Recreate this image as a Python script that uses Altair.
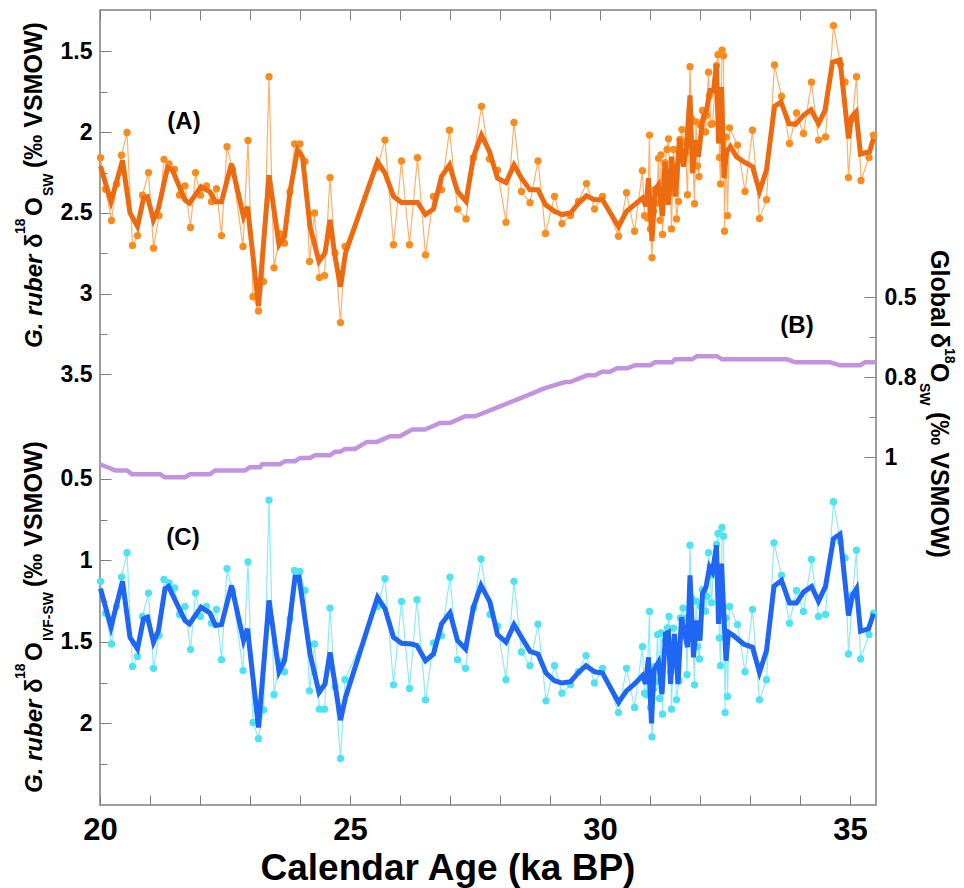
import altair as alt
import pandas as pd

# ---------------- data ----------------
A_AGE = [20.01, 20.11, 20.23, 20.33, 20.43, 20.54, 20.65, 20.75, 20.85, 20.97,
         21.07, 21.18, 21.28, 21.38, 21.49, 21.59, 21.70, 21.81, 21.91, 22.01,
         22.13, 22.23, 22.33, 22.43, 22.54, 22.65, 22.86, 22.96, 23.06, 23.17,
         23.27, 23.38, 23.48, 23.60, 23.69, 23.80, 23.89, 24.00, 24.10, 24.19,
         24.29, 24.39, 24.49, 24.60, 24.70, 24.81, 24.90, 25.55, 25.70, 25.87,
         26.03, 26.19, 26.35, 26.51, 26.67, 26.83, 26.99, 27.15, 27.32, 27.47,
         27.63, 27.79, 27.95, 28.12, 28.28, 28.43, 28.60, 28.76, 28.91, 29.09,
         29.24, 29.41, 29.57, 29.73, 29.89, 30.05, 30.37, 30.53, 30.69, 30.85,
         30.89, 30.95, 30.99, 31.01, 31.04, 31.07, 31.11, 31.13, 31.17, 31.20,
         31.22, 31.25, 31.30, 31.34, 31.37, 31.41, 31.43, 31.47, 31.49, 31.53,
         31.57, 31.60, 31.64, 31.67, 31.71, 31.75, 31.77, 31.80, 31.83, 31.85,
         31.89, 31.92, 31.95, 31.98, 32.01, 32.05, 32.09, 32.11, 32.13, 32.17,
         32.19, 32.22, 32.25, 32.30, 32.33, 32.36, 32.39, 32.41, 32.44, 32.47,
         32.49, 32.52, 32.55, 32.59, 32.75, 32.90, 33.05, 33.19, 33.33, 33.49,
         33.63, 33.79, 33.93, 34.07, 34.23, 34.37, 34.51, 34.67, 34.81, 34.90,
         34.97, 35.05, 35.13, 35.22, 35.38, 35.47]
A_VAL = [2.158, 2.353, 2.547, 2.322, 2.143, 2.002, 2.701, 2.640, 2.390, 2.250,
         2.718, 2.517, 2.168, 2.197, 2.230, 2.390, 2.332, 2.590, 2.250, 2.390,
         2.332, 2.430, 2.350, 2.640, 2.090, 2.230, 2.707, 2.051, 3.019, 3.107,
         2.925, 1.656, 2.840, 2.629, 2.687, 2.369, 2.072, 2.072, 2.182, 2.800,
         2.500, 2.900, 2.888, 2.281, 2.748, 3.179, 2.707, 2.217, 2.049, 2.697,
         2.178, 2.697, 2.158, 2.760, 2.398, 2.357, 1.988, 2.476, 2.537, 2.158,
         1.840, 2.166, 2.236, 2.558, 1.940, 2.367, 2.437, 2.178, 2.627, 2.398,
         2.566, 2.515, 2.428, 2.318, 2.476, 2.398, 2.644, 2.375, 2.613, 2.238,
         2.517, 2.531, 2.018, 2.599, 2.777, 2.490, 2.353, 2.439, 2.162, 2.545,
         2.141, 2.633, 2.189, 2.107, 2.041, 2.373, 2.599, 2.107, 2.209, 2.537,
         2.428, 2.045, 1.984, 2.059, 2.127, 2.387, 2.029, 1.594, 1.916, 2.090,
         2.443, 1.936, 2.209, 2.275, 1.957, 1.865, 1.902, 1.998, 1.896, 1.629,
         1.772, 1.951, 1.947, 1.742, 1.588, 1.520, 2.156, 2.320, 1.492, 1.526,
         2.613, 2.029, 2.517, 1.973, 2.080, 2.367, 1.988, 2.535, 2.418, 1.584,
         1.779, 2.070, 1.881, 2.008, 1.690, 2.049, 2.029, 1.340, 1.582, 1.690,
         2.281, 1.916, 1.656, 2.299, 2.156, 2.018]

A_SM_AGE = [20.01, 20.22, 20.45, 20.60, 20.75, 20.87, 20.95, 21.07, 21.17, 21.35,
            21.45, 21.70, 21.79, 22.02, 22.20, 22.31, 22.43, 22.63, 22.87, 22.95,
            23.17, 23.38, 23.58, 23.69, 23.80, 23.95, 24.05, 24.20, 24.38, 24.50,
            24.60, 24.70, 24.81, 24.91, 25.55, 25.70, 25.87, 26.03, 26.35, 26.51,
            26.67, 26.83, 26.99, 27.15, 27.32, 27.47, 27.63, 27.79, 27.95, 28.12,
            28.28, 28.43, 28.60, 28.76, 28.91, 29.09, 29.24, 29.41, 29.57, 29.73,
            29.89, 30.05, 30.37, 30.53, 30.85, 30.92, 30.97, 31.04, 31.10, 31.17,
            31.25, 31.30, 31.37, 31.43, 31.51, 31.59, 31.67, 31.73, 31.80, 31.85,
            31.92, 31.97, 32.05, 32.13, 32.20, 32.27, 32.33, 32.37, 32.43, 32.48,
            32.53, 32.61, 32.73, 32.87, 33.05, 33.19, 33.33, 33.49, 33.62, 33.78,
            33.91, 34.07, 34.22, 34.37, 34.50, 34.65, 34.80, 34.97, 35.03, 35.12,
            35.21, 35.39, 35.47]
A_SM_VAL = [2.211, 2.430, 2.174, 2.500, 2.584, 2.410, 2.400, 2.543, 2.470, 2.219,
            2.236, 2.420, 2.440, 2.338, 2.369, 2.430, 2.430, 2.195, 2.523, 2.461,
            3.076, 2.267, 2.697, 2.646, 2.369, 2.109, 2.154, 2.584, 2.800, 2.748,
            2.543, 2.769, 2.957, 2.748, 2.182, 2.254, 2.398, 2.435, 2.435, 2.510,
            2.476, 2.275, 2.203, 2.367, 2.428, 2.152, 2.018, 2.121, 2.285, 2.312,
            2.203, 2.285, 2.357, 2.357, 2.449, 2.490, 2.510, 2.500, 2.439, 2.394,
            2.418, 2.418, 2.585, 2.490, 2.408, 2.459, 2.285, 2.674, 2.357, 2.326,
            2.520, 2.182, 2.449, 2.152, 2.398, 2.039, 2.213, 2.090, 1.772, 2.254,
            2.049, 2.152, 1.926, 1.865, 1.742, 1.742, 1.578, 2.070, 1.721, 2.285,
            2.121, 2.090, 2.152, 2.182, 2.213, 2.367, 2.234, 1.840, 1.813, 1.947,
            1.951, 1.895, 1.861, 1.947, 1.865, 1.567, 1.553, 2.039, 1.906, 1.875,
            2.135, 2.121, 2.039]

B_AGE = [20.00, 20.15, 20.30, 20.54, 20.64, 21.20, 21.30, 21.70, 21.80, 22.20,
         22.30, 22.90, 23.00, 23.20, 23.24, 23.60, 23.70, 23.90, 24.00, 24.20,
         24.30, 24.60, 24.70, 24.80, 24.90, 25.10, 25.34, 25.54, 25.80, 26.00,
         26.24, 26.50, 26.80, 27.00, 27.30, 27.50, 27.90, 28.40, 28.90, 29.30,
         29.40, 29.74, 29.90, 30.04, 30.20, 30.34, 30.54, 30.70, 31.00, 31.10,
         31.44, 31.50, 31.84, 31.94, 32.34, 32.44, 33.74, 33.90, 34.60, 34.80,
         35.20, 35.30, 35.52]
B_VAL = [1.022, 1.031, 1.041, 1.041, 1.053, 1.053, 1.062, 1.062, 1.053, 1.053,
         1.041, 1.041, 1.031, 1.031, 1.022, 1.022, 1.012, 1.012, 1.002, 1.002,
         0.994, 0.994, 0.983, 0.983, 0.974, 0.974, 0.952, 0.952, 0.934, 0.934,
         0.913, 0.913, 0.893, 0.893, 0.872, 0.872, 0.847, 0.816, 0.784, 0.765,
         0.765, 0.744, 0.744, 0.733, 0.733, 0.722, 0.722, 0.7125, 0.7125, 0.703,
         0.703, 0.694, 0.694, 0.684, 0.684, 0.694, 0.694, 0.703, 0.703, 0.7125,
         0.7125, 0.703, 0.703]

C_AGE = [20.01, 20.11, 20.23, 20.33, 20.43, 20.54, 20.65, 20.75, 20.85, 20.97,
         21.07, 21.18, 21.28, 21.38, 21.49, 21.59, 21.70, 21.81, 21.91, 22.01,
         22.13, 22.23, 22.33, 22.43, 22.54, 22.65, 22.86, 22.96, 23.06, 23.17,
         23.27, 23.38, 23.48, 23.59, 23.69, 23.80, 23.89, 24.00, 24.10, 24.19,
         24.29, 24.39, 24.49, 24.60, 24.70, 24.81, 24.90, 25.55, 25.70, 25.87,
         26.03, 26.19, 26.34, 26.51, 26.67, 26.83, 27.00, 27.15, 27.31, 27.47,
         27.62, 27.80, 27.95, 28.12, 28.28, 28.43, 28.60, 28.76, 28.92, 29.09,
         29.24, 29.41, 29.57, 29.72, 29.89, 30.05, 30.37, 30.53, 30.69, 30.85,
         30.89, 30.93, 30.99, 31.01, 31.04, 31.07, 31.10, 31.12, 31.15, 31.19,
         31.22, 31.25, 31.30, 31.35, 31.38, 31.41, 31.43, 31.47, 31.49, 31.53,
         31.58, 31.61, 31.66, 31.68, 31.72, 31.74, 31.77, 31.80, 31.83, 31.85,
         31.89, 31.92, 31.95, 31.99, 32.01, 32.05, 32.09, 32.11, 32.14, 32.17,
         32.20, 32.23, 32.27, 32.33, 32.36, 32.39, 32.41, 32.44, 32.47, 32.50,
         32.52, 32.55, 32.59, 32.75, 32.90, 33.05, 33.19, 33.33, 33.48, 33.63,
         33.79, 33.93, 34.07, 34.23, 34.37, 34.51, 34.67, 34.81, 34.90, 34.97,
         35.05, 35.13, 35.21, 35.38, 35.47]
C_VAL = [1.129, 1.324, 1.513, 1.283, 1.103, 0.953, 1.650, 1.590, 1.344, 1.201,
         1.662, 1.461, 1.117, 1.139, 1.170, 1.332, 1.283, 1.547, 1.201, 1.344,
         1.283, 1.385, 1.301, 1.609, 1.051, 1.189, 1.676, 1.010, 1.994, 2.093,
         1.916, 0.631, 1.824, 1.621, 1.683, 1.359, 1.062, 1.068, 1.185, 1.800,
         1.513, 1.912, 1.912, 1.293, 1.775, 2.214, 1.732, 1.283, 1.113, 1.763,
         1.252, 1.785, 1.242, 1.855, 1.506, 1.463, 1.103, 1.609, 1.662, 1.293,
         0.992, 1.332, 1.404, 1.732, 1.129, 1.562, 1.646, 1.392, 1.861, 1.646,
         1.814, 1.763, 1.683, 1.584, 1.752, 1.662, 1.933, 1.662, 1.902, 1.529,
         1.814, 1.824, 1.314, 1.902, 2.082, 1.789, 1.650, 1.744, 1.455, 1.847,
         1.445, 1.943, 1.492, 1.414, 1.344, 1.683, 1.912, 1.416, 1.523, 1.855,
         1.738, 1.353, 1.293, 1.359, 1.445, 1.701, 1.344, 0.908, 1.232, 1.414,
         1.763, 1.250, 1.529, 1.605, 1.283, 1.180, 1.215, 1.312, 1.221, 0.953,
         1.092, 1.260, 1.057, 0.902, 0.836, 1.476, 1.646, 0.799, 0.852, 1.933,
         1.353, 1.834, 1.283, 1.394, 1.683, 1.301, 1.855, 1.732, 0.893, 1.092,
         1.385, 1.185, 1.314, 0.994, 1.344, 1.332, 0.641, 0.887, 0.986, 1.574,
         1.211, 0.938, 1.605, 1.455, 1.324]

C_SM_AGE = [20.01, 20.22, 20.45, 20.60, 20.75, 20.87, 20.95, 21.07, 21.17, 21.30,
            21.37, 21.70, 21.79, 22.02, 22.20, 22.31, 22.43, 22.63, 22.87, 22.95,
            23.17, 23.38, 23.58, 23.69, 23.80, 23.90, 23.98, 24.20, 24.38, 24.50,
            24.60, 24.70, 24.81, 24.91, 25.55, 25.70, 25.87, 26.03, 26.23, 26.34,
            26.51, 26.67, 26.83, 27.00, 27.15, 27.31, 27.47, 27.62, 27.80, 27.95,
            28.12, 28.28, 28.43, 28.60, 28.76, 28.92, 29.09, 29.24, 29.41, 29.57,
            29.72, 29.89, 30.05, 30.37, 30.53, 30.69, 30.85, 30.91, 30.97, 31.03,
            31.08, 31.17, 31.24, 31.31, 31.37, 31.41, 31.49, 31.56, 31.63, 31.71,
            31.75, 31.80, 31.87, 31.93, 32.00, 32.05, 32.12, 32.19, 32.25, 32.33,
            32.37, 32.43, 32.52, 32.57, 32.67, 32.87, 33.05, 33.19, 33.33, 33.48,
            33.63, 33.79, 33.93, 34.07, 34.23, 34.37, 34.51, 34.67, 34.80, 34.97,
            35.05, 35.13, 35.21, 35.37, 35.47]
C_SM_VAL = [1.174, 1.410, 1.129, 1.472, 1.543, 1.359, 1.349, 1.502, 1.430, 1.174,
            1.160, 1.369, 1.390, 1.287, 1.324, 1.400, 1.394, 1.154, 1.492, 1.420,
            2.025, 1.246, 1.683, 1.615, 1.359, 1.103, 1.103, 1.574, 1.810, 1.758,
            1.564, 1.758, 1.980, 1.840, 1.226, 1.297, 1.472, 1.508, 1.513, 1.523,
            1.615, 1.574, 1.390, 1.322, 1.492, 1.543, 1.287, 1.154, 1.256, 1.455,
            1.502, 1.394, 1.472, 1.558, 1.574, 1.691, 1.738, 1.752, 1.744, 1.687,
            1.646, 1.683, 1.691, 1.871, 1.800, 1.758, 1.707, 1.758, 1.595, 2.000,
            1.672, 1.625, 1.820, 1.451, 1.441, 1.758, 1.451, 1.758, 1.349, 1.472,
            1.533, 1.092, 1.595, 1.369, 1.492, 1.205, 1.164, 1.041, 1.072, 0.908,
            1.390, 1.020, 1.615, 1.441, 1.461, 1.513, 1.533, 1.687, 1.554, 1.160,
            1.123, 1.262, 1.262, 1.195, 1.160, 1.250, 1.160, 0.867, 0.840, 1.338,
            1.215, 1.174, 1.435, 1.420, 1.328]

X_TICKS = list(range(20, 36))
A_MAJOR = [1.5, 2, 2.5, 3, 3.5]
A_MINOR = [1.75, 2.25, 2.75, 3.25]
B_MAJOR = [0.5, 0.75, 1.0]
B_MINOR = [0.625, 0.875]
C_MAJOR = [0.5, 1, 1.5, 2]
C_MINOR = [0.75, 1.25, 1.75, 2.25]

# ---------------- styling ----------------
FONT = "Liberation Sans"
GRAY = "#7f7f7f"
OX, OY = 100, 10          # plot origin on the page
W, H = 776, 795
DOT = 54

dfA = pd.DataFrame({"age": A_AGE, "v": A_VAL})
dfAs = pd.DataFrame({"age": A_SM_AGE, "v": A_SM_VAL})
dfB = pd.DataFrame({"age": B_AGE, "v": B_VAL})
dfC = pd.DataFrame({"age": C_AGE, "v": C_VAL})
dfCs = pd.DataFrame({"age": C_SM_AGE, "v": C_SM_VAL})

XS = alt.Scale(domain=[20, 35.52], nice=False, zero=False)
YA = alt.Scale(domain=[1.2433, 6.166], reverse=True, nice=False, zero=False)
YB = alt.Scale(domain=[-0.3978, 2.0866], reverse=True, nice=False, zero=False)
YC = alt.Scale(domain=[-2.372, 2.4994], reverse=True, nice=False, zero=False)


def yaxis(orient, values, size, labels, expr="'' + datum.value"):
    kw = dict(orient=orient, values=values, tickSize=size, offset=-size,
              domain=False, grid=False, title=None, labels=labels, ticks=True,
              tickColor=GRAY, tickWidth=1)
    if labels:
        kw.update(labelFont=FONT, labelFontSize=23, labelFontWeight="bold",
                  labelColor="black", labelPadding=8, labelExpr=expr,
                  labelOverlap=False, labelFlush=False)
    return alt.Axis(**kw)


top_axis = alt.Axis(orient="top", values=X_TICKS, tickSize=10, offset=-10,
                    domain=False, grid=False, title=None, labels=False,
                    tickColor=GRAY, tickWidth=1)
bottom_axis = alt.Axis(orient="bottom", values=X_TICKS, tickSize=10, offset=-10,
                       domain=False, grid=False, title=None, labels=True,
                       tickColor=GRAY, tickWidth=1,
                       labelExpr="datum.value % 5 == 0 ? '' + datum.value : ''",
                       labelFont=FONT, labelFontSize=31, labelFontWeight="bold",
                       labelColor="black", labelPadding=10, labelOverlap=False,
                       labelFlush=False)

X_NONE = alt.X("age:Q", scale=XS, axis=None)

# panel A
a_thin = alt.Chart(dfA).mark_line(color="#FDB16C", strokeWidth=1.2).encode(
    x=alt.X("age:Q", scale=XS, axis=top_axis),
    y=alt.Y("v:Q", scale=YA, axis=yaxis("left", A_MINOR, 7, False)))
ya_major = alt.Y("v:Q", scale=YA, axis=yaxis("left", A_MAJOR, 11, True))
xa_bottom = alt.X("age:Q", scale=XS, axis=bottom_axis)
a_main = alt.layer(
    alt.Chart(dfA).mark_circle(size=DOT, color="#FA8C1E", opacity=1).encode(x=xa_bottom, y=ya_major),
    alt.Chart(dfAs).mark_line(color="#EC6A10", strokeWidth=5).encode(x=xa_bottom, y=ya_major),
)

# panel B
b_minor = alt.Chart(dfB).mark_line(opacity=0).encode(
    x=X_NONE, y=alt.Y("v:Q", scale=YB, axis=yaxis("right", B_MINOR, 7, False)))
b_main = alt.Chart(dfB).mark_line(color="#C294DF", strokeWidth=4.5).encode(
    x=X_NONE,
    y=alt.Y("v:Q", scale=YB, axis=yaxis(
        "right", B_MAJOR, 12, True,
        expr="datum.value == 0.75 ? '0.8' : '' + datum.value")))

# panel C
c_thin = alt.Chart(dfC).mark_line(color="#8EEBF6", strokeWidth=1.2).encode(
    x=X_NONE, y=alt.Y("v:Q", scale=YC, axis=yaxis("left", C_MINOR, 7, False)))
yc_major = alt.Y("v:Q", scale=YC, axis=yaxis("left", C_MAJOR, 11, True))
c_main = alt.layer(
    alt.Chart(dfC).mark_circle(size=DOT, color="#4DE3F3", opacity=1).encode(x=X_NONE, y=yc_major),
    alt.Chart(dfCs).mark_line(color="#1F66F2", strokeWidth=5).encode(x=X_NONE, y=yc_major),
)

# text pieces
TXT = pd.DataFrame({"k": [0]})


def txt(s, x, y, size=24, angle=0, align="left", baseline="alphabetic", style="normal"):
    return alt.Chart(TXT).mark_text(
        text=s, font=FONT, fontSize=size, fontWeight="bold", fontStyle=style,
        angle=angle, align=align, baseline=baseline, color="black"
    ).encode(x=alt.value(x - OX), y=alt.value(y - OY))


texts = [
    txt("(A)", 184, 122, 24, align="center", baseline="middle"),
    txt("(B)", 797, 326, 24, align="center", baseline="middle"),
    txt("(C)", 183, 538, 24, align="center", baseline="middle"),
    txt("Calendar Age (ka BP)", 448, 880, 37, align="center"),
    # left title (A)
    txt("G. ruber", 42, 348, 24, angle=270, style="italic"),
    txt("δ", 42, 248, 24, angle=270),
    txt("18", 25, 234, 14, angle=270),
    txt("O", 42, 216, 24, angle=270),
    txt("SW", 53, 196, 14, angle=270),
    txt("(‰ VSMOW)", 42, 168, 25, angle=270),
    # left title (C)
    txt("G. ruber", 42, 793, 24, angle=270, style="italic"),
    txt("δ", 42, 693, 24, angle=270),
    txt("18", 25, 679, 14, angle=270),
    txt("O", 42, 661, 24, angle=270),
    txt("IVF-SW", 53, 641, 14, angle=270),
    txt("(‰ VSMOW)", 42, 587, 25, angle=270),
    # right title (B)
    txt("Global", 931, 250, 25, angle=90),
    txt("δ", 931, 333, 25, angle=90),
    txt("18", 945, 348, 14, angle=90),
    txt("O", 931, 363, 25, angle=90),
    txt("SW", 920, 383, 14, angle=90),
    txt("(‰ VSMOW)", 931, 412, 25, angle=90),
]

chart = alt.layer(
    a_thin, a_main, b_minor, b_main, c_thin, c_main, *texts
).resolve_scale(
    x="independent", y="independent"
).properties(
    width=W, height=H,
    padding={"left": OX, "top": OY, "right": 964 - OX - W, "bottom": 888 - OY - H},
    autosize=alt.AutoSizeParams(type="none"),
).configure_view(
    stroke=GRAY, strokeWidth=1.5
)

chart.save("out.html", embed_options={"renderer": "svg", "actions": False})
